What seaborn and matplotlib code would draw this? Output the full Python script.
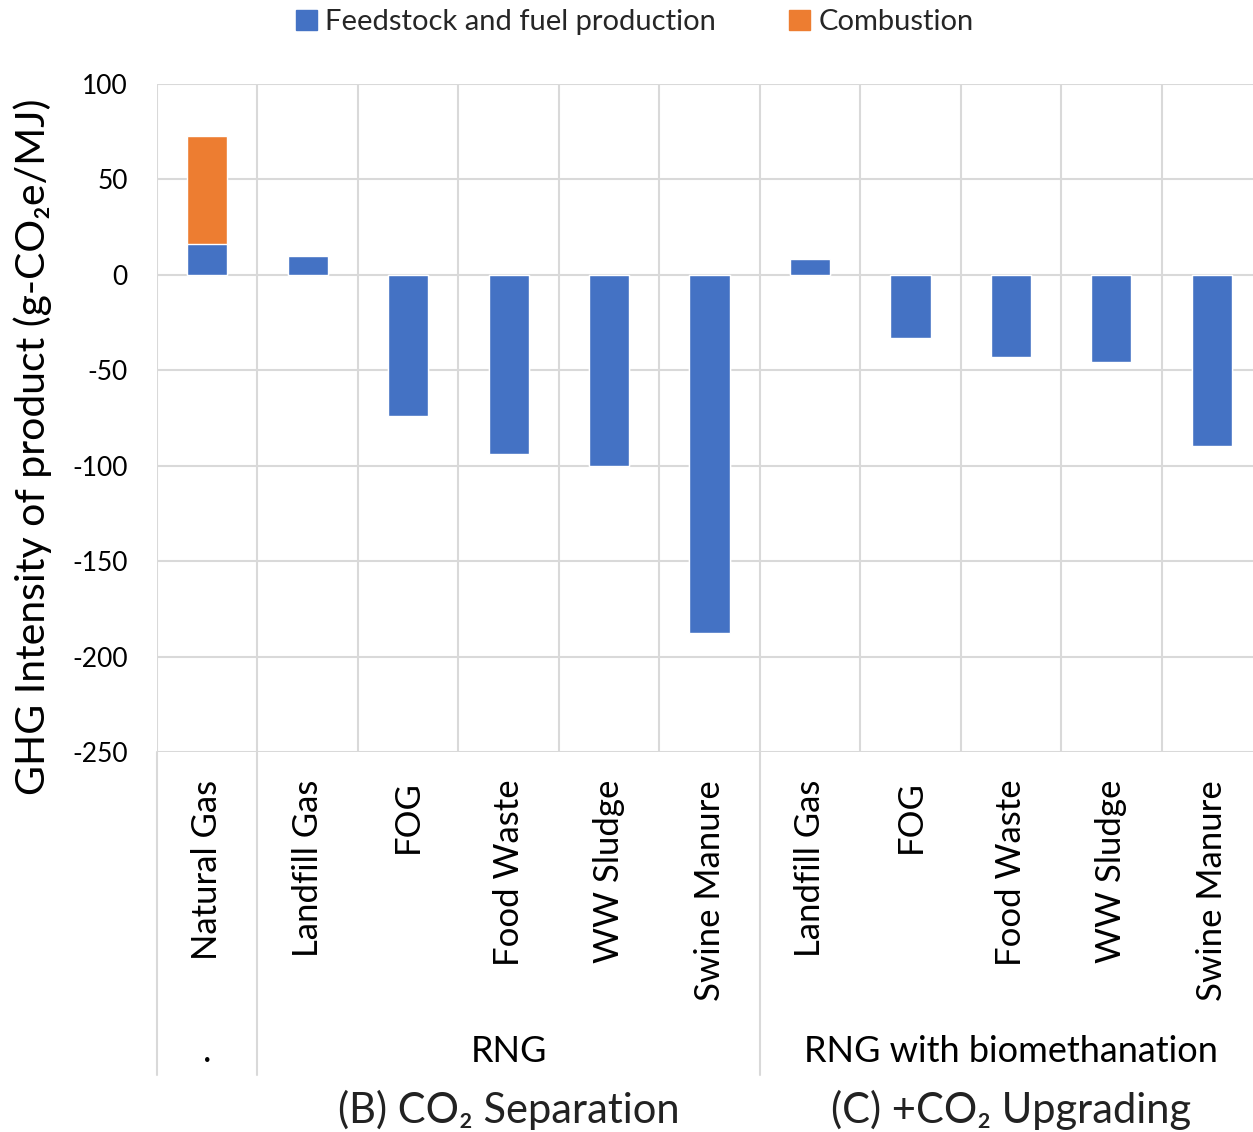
import numpy as np
import pandas as pd
import matplotlib
matplotlib.use("Agg")
import matplotlib.pyplot as plt
import matplotlib.transforms as mtransforms
from matplotlib.patches import Patch
import seaborn as sns

# data
slots = ["NG", "B1", "B2", "B3", "B4", "B5", "C1", "C2", "C3", "C4", "C5"]
tick_labels = ["Natural Gas", "Landfill Gas", "FOG", "Food Waste", "WW Sludge", "Swine Manure",
               "Landfill Gas", "FOG", "Food Waste", "WW Sludge", "Swine Manure"]
feedstock = [16.2, 10.0, -74.0, -94.0, -100.0, -187.5, 8.5, -33.0, -43.0, -45.5, -89.5]
combustion = [56.6, 0, 0, 0, 0, 0, 0, 0, 0, 0, 0]
groups = [".", "RNG", "RNG with biomethanation"]
group_spans = [(0, 0), (1, 5), (6, 10)]
bottom_notes = ["(B) CO\u2082 Separation", "(C) +CO\u2082 Upgrading"]

BLUE = "#4472C4"
ORANGE = "#ED7D31"
GRID = "#D9D9D9"

sns.set_theme(style="white")
plt.rcParams["font.family"] = ["Lato", "DejaVu Sans"]
plt.rcParams["axes.unicode_minus"] = False

df = pd.DataFrame({"slot": slots, "feed": feedstock,
                   "total": np.array(feedstock) + np.array(combustion)})

W, H = 1253, 1132
fig = plt.figure(figsize=(W / 100, H / 100), dpi=100)
ax = fig.add_axes([157 / W, 1 - 752 / H, 1105 / W, 668 / H])

# stacked look: totals in orange, feedstock drawn over them in blue
sns.barplot(data=df, x="slot", y="total", order=slots, color=ORANGE, width=0.4,
            saturation=1, ax=ax, zorder=3)
sns.barplot(data=df, x="slot", y="feed", order=slots, color=BLUE, width=0.4,
            saturation=1, ax=ax, zorder=4)

ax.set_xlim(-0.5, len(slots) - 0.5)
ax.set_ylim(-250, 100)
ax.set_yticks(np.arange(-250, 101, 50))
ax.set_xticks(range(len(slots)))
ax.set_xticklabels(tick_labels, rotation=90, fontsize=25, color="black")
ax.set_xticks(np.arange(-0.5, len(slots), 1), minor=True)
ax.tick_params(axis="y", labelsize=19, pad=21, length=0, colors="black")
ax.tick_params(axis="x", which="both", pad=20, length=0)
ax.grid(axis="y", which="major", color=GRID, lw=1.5, zorder=0)
ax.grid(axis="x", which="minor", color=GRID, lw=1.5, zorder=0)
ax.grid(axis="x", which="major", visible=False)
ax.set_xlabel("")
ax.set_ylabel("")
for s in ax.spines.values():
    s.set_visible(False)

# group separators running down through the label area
trans = mtransforms.blended_transform_factory(ax.transData, ax.transAxes)
for xb in [-0.5, 0.5, 5.5]:
    ax.plot([xb, xb], [0, (752 - 1075) / 668], transform=trans, color=GRID,
            lw=1.5, clip_on=False)

for name, (a, b) in zip(groups, group_spans):
    ax.text((a + b) / 2, (752 - 1052) / 668, name, transform=trans, ha="center",
            va="center", fontsize=26, color="black")

for note, (a, b) in zip(bottom_notes, group_spans[1:]):
    ax.text((a + b) / 2, (752 - 1110) / 668, note, transform=trans, ha="center",
            va="center", fontsize=30, color="#222222")

fig.text(33 / W, 1 - 447 / H, "GHG Intensity of product (g-CO\u2082e/MJ)", rotation=90,
         ha="center", va="center", fontsize=29.5, color="black")

handles = [Patch(color=BLUE, label="Feedstock and fuel production"),
           Patch(color=ORANGE, label="Combustion")]
fig.legend(handles=handles, loc="center", bbox_to_anchor=(635 / W, 1 - 22 / H), ncol=2,
           frameon=False, fontsize=21, handlelength=0.7, handleheight=0.7,
           handletextpad=0.3, columnspacing=2.5)

fig.savefig("out.png", dpi=100)
